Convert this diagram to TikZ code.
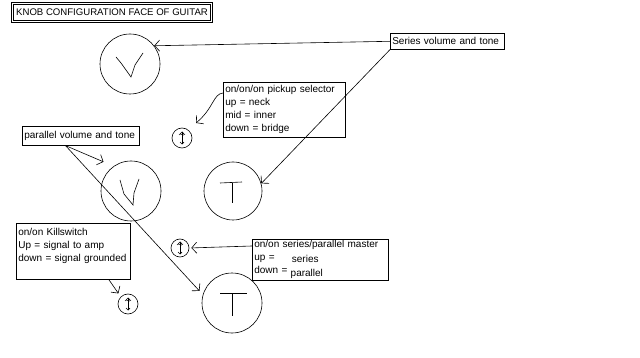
\documentclass[tikz,border=0pt]{standalone}
\usepackage{fontspec}
\setmainfont{Liberation Sans}
\usetikzlibrary{arrows.meta,calc}
\begin{document}
\begin{tikzpicture}[x=1pt,y=-1pt,line width=0.6pt,
  txt/.style={font=\fontsize{10}{13}\selectfont},
  box/.style={draw,txt,align=left,anchor=north west,inner xsep=2pt,inner ysep=1pt},
  knob/.style={draw,circle,minimum size=60pt,inner sep=0pt},
  sw/.style={draw,circle,minimum size=19pt,inner sep=0pt},
  arr/.style={-{Straight Barb[length=5pt,width=11pt]}},
  tiny/.style={{Straight Barb[length=2pt,width=4pt]}-{Straight Barb[length=2pt,width=4pt]}}]
\useasboundingbox (0,0) rectangle (640,358);
% title
\node[draw,double,double distance=1pt,font=\fontsize{9.6}{11}\selectfont,minimum width=199pt,minimum height=18pt,inner sep=0pt] (title) at (112,12.5) {KNOB CONFIGURATION FACE OF GUITAR};
% knobs
\node[knob] (v1) at (130,64) {};
\node[knob] (v2) at (131,191) {};
\node[knob,minimum size=58pt] (t1) at (233,191) {};
\node[knob] (t2) at (232,303) {};
% switches
\node[sw,minimum size=20pt] (s1) at (182,138) {};
\node[sw,minimum size=18pt] (s2) at (180,248) {};
\node[sw,minimum size=20pt] (s3) at (128,304) {};
% symbols in knobs
\begin{scope}[shift={(v1.center)}]
  \draw (-14,-7) -- (-9,-1) -- (1,13) -- (5,1) -- (13,-11);
\end{scope}
\begin{scope}[shift={(v2.center)}]
  \draw (-11,-11) -- (-7,3) -- (2,14) -- (3,2) -- (8,-12);
\end{scope}
\begin{scope}[shift={(t1.center)}]
  \draw (-13,-8) -- (9,-9);
  \draw (-1,-8) -- (-1,12);
\end{scope}
\begin{scope}[shift={(t2.center)}]
  \draw (-12,-10) -- (15,-10);
  \draw (0,-10) -- (0,13);
\end{scope}
% symbols in switches
\foreach \s in {s1,s2,s3}{
  \begin{scope}[shift={(\s.center)}]
    \draw[tiny] (0,-6.5) -- (0,6.5);
    \draw[line width=0.5pt] (-3,-3) .. controls (-1,-6) and (1,-1) .. (3,-4);
  \end{scope}
}
% boxes
\node[box,text width=110pt,minimum height=16pt] (series) at (390,33) {Series volume and tone};
\node[box,text width=118pt,minimum height=55pt] (pick) at (223,82) {on/on/on pickup selector\\up = neck\\mid = inner\\down = bridge};
\node[box,text width=113pt,minimum height=19pt] (par) at (22,126) {parallel volume and tone};
\node[box,text width=110pt,minimum height=56pt] (kill) at (16,223) {on/on Killswitch\\Up = signal to amp\\down = signal grounded\\ ~};
\node[box,text width=132pt,minimum height=41pt] (master) at (252,239) {on/on series/parallel master\\up = \hspace{14pt}\raisebox{-2pt}{series}\\down = \raisebox{-3pt}{parallel}};
% connector end points
\coordinate (pickstart) at ($(pick.north west)+(0,11)$);
\coordinate (picktip) at ($(s1.center)+(14,-15)$);
\coordinate (parstart) at ($(par.south west)!0.37!(par.south east)$);
\coordinate (killstart) at ($(kill.south west)!0.81!(kill.south east)$);
\coordinate (masterstart) at ($(master.north west)+(0,7)$);
% connectors
\draw[arr] (series.west) -- (v1.37);
\draw[arr] (series.south west) -- (t1.15);
\draw[arr] (pickstart) .. controls (213,94) and (214,108) .. (picktip);
\draw[arr,shorten >=11pt] (parstart) -- (v2.125);
\draw[arr,shorten >=5pt] (parstart) -- (t2.164);
\draw[arr,shorten >=4pt] (killstart) -- (s3.135);
\draw[arr,shorten >=2pt] (masterstart) -- (s2.east);
\end{tikzpicture}
\end{document}
